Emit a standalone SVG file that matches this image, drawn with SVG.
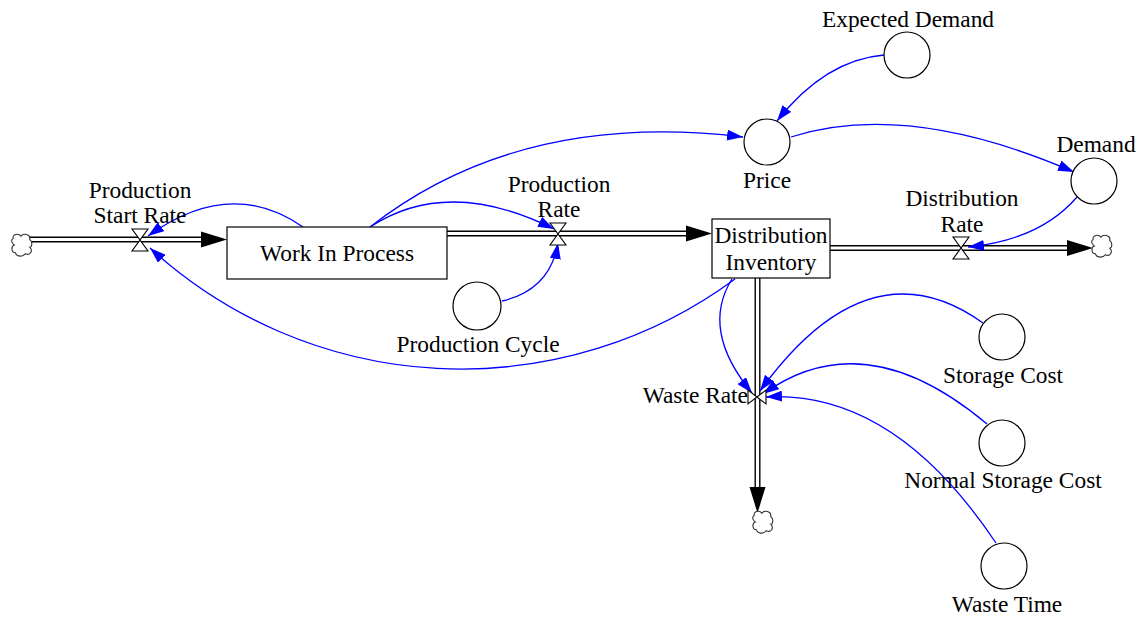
<svg xmlns="http://www.w3.org/2000/svg" xmlns:xlink="http://www.w3.org/1999/xlink" width="1141" height="617" viewBox="0 0 1141 617">
  <style>
    text { font-family: "Liberation Serif", "Times New Roman", serif; font-size: 23.4px; fill: #000; text-anchor: middle; }
    .stock { fill: #fff; stroke: #000; stroke-width: 1.2; }
    .aux { fill: #fff; stroke: #000; stroke-width: 1.2; }
    .pipe-out { fill: none; stroke: #000; stroke-width: 6; }
    .pipe-in { fill: none; stroke: #fff; stroke-width: 3.2; }
    .valve { fill: #fff; stroke: #000; stroke-width: 1.1; stroke-linejoin: miter; }
    .cloud { fill: #fff; stroke: #333; stroke-width: 1; }
    .link { fill: none; stroke: #0000ff; stroke-width: 1.3; marker-end: url(#linkhead); }
  </style>
  <defs>
    <marker id="linkhead" markerUnits="userSpaceOnUse" markerWidth="16" markerHeight="11" refX="16" refY="5.5" orient="auto">
      <path d="M0,0 L16,5.5 L0,11 Z" fill="#0000ff"/>
    </marker>
    <path id="flowhead" d="M0,0 L-26,-8 L-26,8 Z" fill="#000"/>
    <path id="cloud" class="cloud" d="M-8,-6 C-9,-10 -3,-11 -1,-8 C1,-11 8,-10 7,-5 C10,-3 9,2 7,2 C10,5 8,10 3,8 C1,11 -5,11 -6,7 C-10,7 -10,1 -7,0 C-10,-2 -10,-5 -8,-6 Z"/>
    <path id="valve-h" class="valve" d="M-8,-11 H8 L-8,11 H8 Z"/>
    <path id="valve-v" class="valve" d="M-9,-7 V7 L9,-7 V7 Z"/>
  </defs>

  <!-- material flows (pipes) -->
  <g id="flows">
    <path class="pipe-out" d="M30,239.5 H205"/>
    <path class="pipe-in" d="M30,239.5 H205"/>
    <use xlink:href="#flowhead" transform="translate(227,239.5)"/>

    <path class="pipe-out" d="M447,233.5 H688"/>
    <path class="pipe-in" d="M447,233.5 H688"/>
    <use xlink:href="#flowhead" transform="translate(712,233.5)"/>

    <path class="pipe-out" d="M830,248 H1069"/>
    <path class="pipe-in" d="M830,248 H1069"/>
    <use xlink:href="#flowhead" transform="translate(1093,248)"/>

    <path class="pipe-out" d="M757.5,278 V489"/>
    <path class="pipe-in" d="M757.5,278 V489"/>
    <use xlink:href="#flowhead" transform="translate(757.5,513) rotate(90)"/>

    <use xlink:href="#cloud" transform="translate(22,245) scale(1.1)"/>
    <use xlink:href="#cloud" transform="translate(1102,246) scale(1.1)"/>
    <use xlink:href="#cloud" transform="translate(763,522) scale(1.1)"/>
  </g>

  <!-- information links -->
  <g id="connectors">
    <path class="link" d="M303,227 Q230.5,176.5 148,236"/>
    <path class="link" d="M735,279 A461,461 0 0 1 150,248"/>
    <path class="link" d="M370,227 Q448,176 554,229"/>
    <path class="link" d="M370,227 Q520,110 743,137"/>
    <path class="link" d="M502,301 Q550,290 558,243"/>
    <path class="link" d="M884,55 Q825,60 777,121"/>
    <path class="link" d="M791,137 Q907.5,100 1074,172"/>
    <path class="link" d="M1077,197 Q1040,240 968,247"/>
    <path class="link" d="M732,279 Q700,330 752,393"/>
    <path class="link" d="M983,323 Q868.5,241 760,391"/>
    <path class="link" d="M987,424 Q864.5,321 763,394"/>
    <path class="link" d="M996,543 Q893.5,390 766,397"/>
  </g>

  <g id="work-in-process">
    <rect class="stock" x="227" y="227" width="220" height="52"/>
    <text x="337" y="261">Work In Process</text>
  </g>

  <g id="distribution-inventory">
    <rect class="stock" x="712" y="219" width="118" height="59"/>
    <text x="771" y="243">Distribution</text>
    <text x="771" y="270">Inventory</text>
  </g>

  <g id="production-start-rate">
    <use xlink:href="#valve-h" transform="translate(140,240)"/>
    <text x="140" y="198">Production</text>
    <text x="140" y="223">Start Rate</text>
  </g>

  <g id="production-rate">
    <use xlink:href="#valve-h" transform="translate(558,234)"/>
    <text x="559" y="192">Production</text>
    <text x="559" y="217">Rate</text>
  </g>

  <g id="distribution-rate">
    <use xlink:href="#valve-h" transform="translate(961,248)"/>
    <text x="962" y="206">Distribution</text>
    <text x="962" y="232">Rate</text>
  </g>

  <g id="waste-rate">
    <use xlink:href="#valve-v" transform="translate(757,397)"/>
    <text x="748" y="403" style="text-anchor:end">Waste Rate</text>
  </g>

  <g id="production-cycle">
    <circle class="aux" cx="477" cy="306" r="24"/>
    <text x="478" y="352">Production Cycle</text>
  </g>

  <g id="expected-demand">
    <circle class="aux" cx="907" cy="55" r="23"/>
    <text x="908" y="27">Expected Demand</text>
  </g>

  <g id="price">
    <circle class="aux" cx="767" cy="142" r="23"/>
    <text x="767" y="188">Price</text>
  </g>

  <g id="demand">
    <circle class="aux" cx="1094" cy="181" r="23"/>
    <text x="1096" y="152">Demand</text>
  </g>

  <g id="storage-cost">
    <circle class="aux" cx="1002" cy="337" r="23"/>
    <text x="1003" y="383">Storage Cost</text>
  </g>

  <g id="normal-storage-cost">
    <circle class="aux" cx="1002" cy="443" r="23"/>
    <text x="1003" y="488">Normal Storage Cost</text>
  </g>

  <g id="waste-time">
    <circle class="aux" cx="1004" cy="566" r="23"/>
    <text x="1007" y="612">Waste Time</text>
  </g>
</svg>
